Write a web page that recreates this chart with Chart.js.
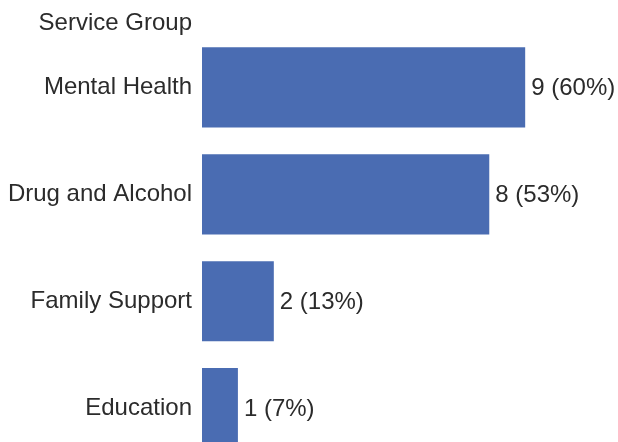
<!DOCTYPE html>
<html>
<head>
<meta charset="utf-8">
<script src="https://cdn.jsdelivr.net/npm/chart.js@4"></script>
<style>
    html, body { margin: 0; padding: 0; background: #fff; overflow: hidden; }
    #wrap { width: 618px; height: 442px; overflow: hidden; }
</style>
</head>
<body>
<div id="wrap"><canvas id="chart" width="618" height="486"></canvas></div>
<script>
const axisTitle = 'Service Group';
const categories = ['Mental Health', 'Drug and Alcohol', 'Family Support', 'Education'];
const counts = [9, 8, 2, 1];
const percents = [60, 53, 13, 7];

const FONT = "'Liberation Sans', Arial, sans-serif";
const TEXT_COLOR = '#2b2b2b';

// Draw the axis heading above the category labels
const headingPlugin = {
    id: 'heading',
    afterDraw(chart) {
        const ctx = chart.ctx;
        const yScale = chart.scales.y;
        ctx.save();
        ctx.font = `24px ${FONT}`;
        ctx.fillStyle = TEXT_COLOR;
        ctx.textAlign = 'right';
        ctx.textBaseline = 'middle';
        ctx.fillText(axisTitle, yScale.right - 10, 23);
        ctx.restore();
    }
};

// Value labels at the end of each bar
const valueLabels = {
    id: 'valueLabels',
    afterDatasetsDraw(chart) {
        const ctx = chart.ctx;
        const meta = chart.getDatasetMeta(0);
        ctx.save();
        ctx.font = `24px ${FONT}`;
        ctx.fillStyle = TEXT_COLOR;
        ctx.textAlign = 'left';
        ctx.textBaseline = 'middle';
        meta.data.forEach((bar, i) => {
            ctx.fillText(`${counts[i]} (${percents[i]}%)`, bar.x + 6, bar.y + 1);
        });
        ctx.restore();
    }
};

new Chart(document.getElementById('chart').getContext('2d'), {
    type: 'bar',
    data: {
        labels: categories,
        datasets: [{
            data: counts,
            backgroundColor: '#4a6cb2',
            borderWidth: 0,
            categoryPercentage: 1,
            barPercentage: 0.75
        }]
    },
    options: {
        indexAxis: 'y',
        responsive: false,
        animation: false,
        devicePixelRatio: 1,
        layout: { padding: { top: 34, bottom: 0, left: 0, right: 21 } },
        plugins: {
            legend: { display: false },
            tooltip: { enabled: false }
        },
        scales: {
            x: {
                display: false,
                min: 0,
                max: 11
            },
            y: {
                grid: { display: false, drawTicks: false },
                border: { display: false },
                ticks: {
                    padding: 10,
                    color: TEXT_COLOR,
                    font: { family: FONT, size: 24 }
                },
                afterFit(scale) { scale.width = 202; }
            }
        }
    },
    plugins: [headingPlugin, valueLabels]
});
</script>
</body>
</html>
